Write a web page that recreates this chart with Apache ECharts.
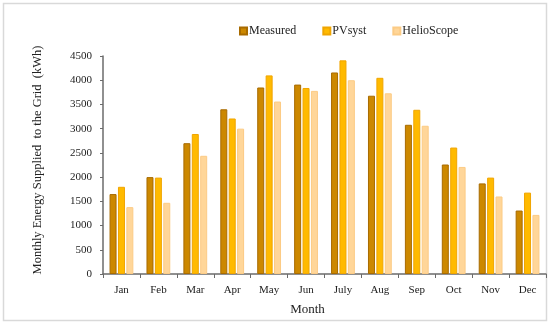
<!DOCTYPE html>
<html><head><meta charset="utf-8">
<script src="https://cdn.jsdelivr.net/npm/echarts@6/dist/echarts.min.js"></script>
<style>html,body{margin:0;padding:0;background:#fff}#c{width:550px;height:325px}</style>
</head><body><div id="c"></div>
<script>
const months = ['Jan','Feb','Mar','Apr','May','Jun','July','Aug','Sep','Oct','Nov','Dec'];
const measured = [1650,2000,2700,3400,3850,3910,4160,3680,3080,2260,1870,1310];
const pvsyst = [1800,1990,2890,3210,4100,3840,4410,4050,3390,2610,1990,1680];
const helioscope = [1380,1470,2440,3000,3560,3780,4000,3730,3060,2210,1600,1220];
const yTicks = [0,500,1000,1500,2000,2500,3000,3500,4000,4500];

const font = "'Palatino Linotype','Book Antiqua',Palatino,'Liberation Serif',serif";
const chart = echarts.init(document.getElementById('c'));
const axisCol = '#6b6b6b';
chart.setOption({
  animation:false,
  textStyle:{fontFamily:font,color:'#222'},
  graphic:[{type:'rect',shape:{x:3.5,y:3.5,width:543,height:317},style:{fill:'none',stroke:'#d9d9d9',lineWidth:1.5}}],
  legend:{top:20,left:234,itemWidth:7,itemHeight:7,itemGap:26,icon:'rect',
    textStyle:{fontFamily:font,fontSize:12,color:'#222',padding:[0,0,0,-3]},
    data:['Measured','PVsyst','HelioScope']},
  grid:{left:103,right:4,top:56,bottom:51},
  xAxis:{type:'category',data:months,
    name:'Month',nameLocation:'middle',nameGap:29,
    nameTextStyle:{fontFamily:font,fontSize:13,color:'#222',padding:[0,34,0,0]},
    axisLine:{lineStyle:{color:axisCol,width:1.5}},
    axisTick:{show:true,length:4,lineStyle:{color:axisCol}},
    axisLabel:{fontFamily:font,fontSize:11,color:'#222',margin:11}},
  yAxis:{type:'value',min:0,max:4500,interval:500,
    name:'Monthly Energy Supplied  to the Grid  (kWh)',nameLocation:'middle',nameGap:59,
    nameTextStyle:{fontFamily:font,fontSize:12.5,color:'#222',padding:[0,0,0,10]},
    axisLine:{show:true,lineStyle:{color:axisCol,width:1.5}},
    axisTick:{show:true,length:3,lineStyle:{color:axisCol}},
    splitLine:{show:false},
    axisLabel:{fontFamily:font,fontSize:11,color:'#222',margin:11,
      formatter:v=>yTicks.includes(v)?String(v):''}},
  series:[
    {name:'Measured',type:'bar',data:measured,barWidth:7,barGap:'20%',
     itemStyle:{color:'#CC8800',borderColor:'#A86B00',borderWidth:1}},
    {name:'PVsyst',type:'bar',data:pvsyst,barWidth:7,barGap:'20%',
     itemStyle:{color:'#FFBA00',borderColor:'#F0A500',borderWidth:1}},
    {name:'HelioScope',type:'bar',data:helioscope,barWidth:7,barGap:'20%',
     itemStyle:{color:'#FFD699',borderColor:'#FCCB85',borderWidth:1}}
  ]
});
</script></body></html>
